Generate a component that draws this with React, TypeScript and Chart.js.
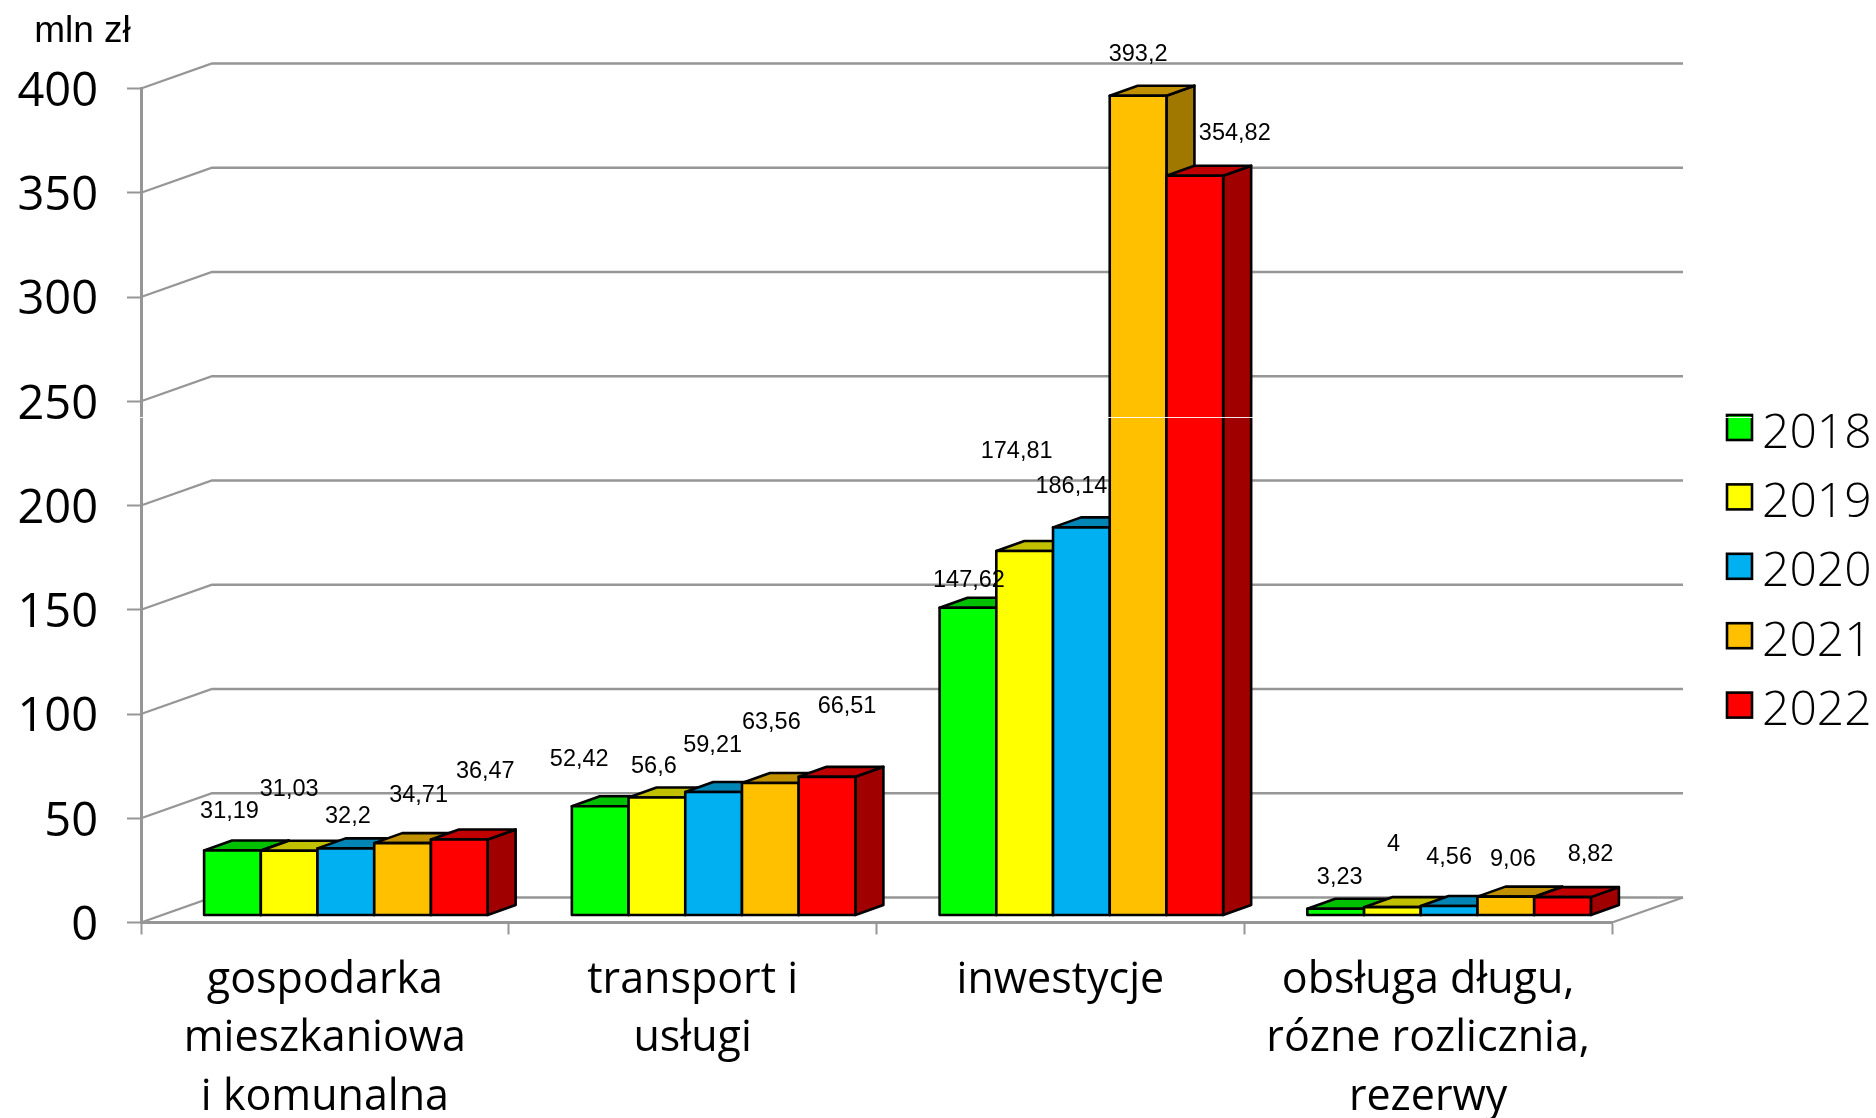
import React, { useEffect, useRef } from "react";
import { Chart, registerables } from "chart.js";

Chart.register(...registerables);

const categories = [
  ["gospodarka", "mieszkaniowa", "i komunalna"],
  ["transport i", "usługi"],
  ["inwestycje"],
  ["obsługa długu,", "rózne rozlicznia,", "rezerwy"],
];
const years = ["2018", "2019", "2020", "2021", "2022"];
const values2018 = [31.19, 52.42, 147.62, 3.23];
const values2019 = [31.03, 56.6, 174.81, 4];
const values2020 = [32.2, 59.21, 186.14, 4.56];
const values2021 = [34.71, 63.56, 393.2, 9.06];
const values2022 = [36.47, 66.51, 354.82, 8.82];
const seriesValues = [values2018, values2019, values2020, values2021, values2022];

const frontColors = ["#00FF00", "#FFFF00", "#00B0F0", "#FFC000", "#FF0000"];
const topColors = ["#00C000", "#C0C000", "#0085B5", "#C09000", "#C00000"];
const sideColors = ["#00A000", "#A0A000", "#0070A0", "#A07800", "#A00000"];

// label offsets from each bar's top centre, per series then per category
const labelDx = [
  [-3, -21, 1, 4],
  [0, -3, -8, 1],
  [2, -1, -10, 0],
  [16, 1, 0, 7],
  [26, 20, 40, 28],
];
const labelDy = [
  [-40, -48, -28, -32],
  [-62, -32, -101, -64],
  [-33, -48, -42, -49],
  [-49, -61, -42, -38],
  [-69, -71, -43, -44],
];

const GRID = "#969696";
const WALL_DX = 71;
const WALL_DY = -25;
const BAR_SHIFT_X = 21;
const BAR_SHIFT_Y = -7;
const DEPTH_X = 28;
const DEPTH_Y = -10;
const OUTLINE = 2.6;
const SCAN_Y = 417;

const threeD = {
  id: "threeD",
  beforeDatasetsDraw(chart: any) {
    const { ctx, scales } = chart;
    const y = scales.y;
    const x = scales.x;
    const wallRight = x.right + WALL_DX;
    ctx.save();
    ctx.strokeStyle = GRID;
    ctx.lineWidth = 2.3;
    y.ticks.forEach((t: any) => {
      const py = y.getPixelForValue(t.value);
      ctx.beginPath();
      ctx.moveTo(x.left, py);
      ctx.lineTo(x.left + WALL_DX, py + WALL_DY);
      ctx.lineTo(wallRight, py + WALL_DY);
      ctx.stroke();
    });
    const p0 = y.getPixelForValue(0);
    ctx.beginPath();
    ctx.moveTo(x.right, p0);
    ctx.lineTo(wallRight, p0 + WALL_DY);
    ctx.stroke();
    ctx.restore();

    // Painter's order: series run left to right so each bar covers its left neighbour's side.
    chart.data.datasets.forEach((_ds: any, i: number) => {
      const meta = chart.getDatasetMeta(i);
      ctx.save();
      ctx.translate(BAR_SHIFT_X, BAR_SHIFT_Y);
      ctx.strokeStyle = "#000";
      ctx.lineWidth = OUTLINE;
      ctx.lineJoin = "round";
      meta.data.forEach((el: any) => {
        const l = el.x - el.width / 2;
        const r = el.x + el.width / 2;
        const t = el.y;
        const b = el.base;
        ctx.fillStyle = sideColors[i];
        ctx.beginPath();
        ctx.moveTo(r, t);
        ctx.lineTo(r + DEPTH_X, t + DEPTH_Y);
        ctx.lineTo(r + DEPTH_X, b + DEPTH_Y);
        ctx.lineTo(r, b);
        ctx.closePath();
        ctx.fill();
        ctx.stroke();
        ctx.fillStyle = topColors[i];
        ctx.beginPath();
        ctx.moveTo(l, t);
        ctx.lineTo(l + DEPTH_X, t + DEPTH_Y);
        ctx.lineTo(r + DEPTH_X, t + DEPTH_Y);
        ctx.lineTo(r, t);
        ctx.closePath();
        ctx.fill();
        ctx.stroke();
      });
      meta.controller.draw();
      meta.data.forEach((el: any) => {
        ctx.strokeRect(el.x - el.width / 2, el.y, el.width, el.base - el.y);
      });
      ctx.restore();
    });
    return false;
  },
  afterDraw(chart: any) {
    const { ctx } = chart;
    ctx.save();

    // legend swatches
    const legendX = 1727;
    const legendY = 427;
    const legendStep = 69.4;
    chart.data.datasets.forEach((ds: any, i: number) => {
      const cy = legendY + i * legendStep;
      ctx.fillStyle = ds.backgroundColor;
      ctx.fillRect(legendX, cy - 12, 25, 25);
      ctx.strokeStyle = "#000";
      ctx.lineWidth = OUTLINE;
      ctx.strokeRect(legendX, cy - 12, 25, 25);
    });

    // thin light scan line that crosses the artwork in the reference
    ctx.fillStyle = "rgba(255,255,255,0.9)";
    ctx.fillRect(130, SCAN_Y, 1622, 1);

    ctx.fillStyle = "#000";
    ctx.textAlign = "center";
    ctx.textBaseline = "middle";
    ctx.font = '23.5px "Liberation Sans"';
    chart.data.datasets.forEach((ds: any, i: number) => {
      const meta = chart.getDatasetMeta(i);
      meta.data.forEach((el: any, j: number) => {
        const text = String(ds.data[j]).replace(".", ",");
        ctx.fillText(
          text,
          el.x + BAR_SHIFT_X + labelDx[i][j],
          el.y + BAR_SHIFT_Y + 1 + labelDy[i][j]
        );
      });
    });
    ctx.font = '37px "Liberation Sans"';
    ctx.fillText("mln zł", 82.5, 32);

    ctx.textAlign = "left";
    ctx.font = '300 48px "Open Sans"';
    chart.data.datasets.forEach((ds: any, i: number) => {
      ctx.fillText(ds.label, 1762, legendY + i * legendStep + 7);
    });
    ctx.restore();
  },
};

export default function App() {
  const ref = useRef<HTMLCanvasElement | null>(null);
  useEffect(() => {
    const chart = new Chart(ref.current as HTMLCanvasElement, {
      type: "bar",
      data: {
        labels: categories as any,
        datasets: years.map((year, i) => ({
          label: year,
          data: seriesValues[i],
          backgroundColor: frontColors[i],
          borderWidth: 0,
          clip: false,
          categoryPercentage: 0.771,
          barPercentage: 1,
        })),
      },
      options: {
        animation: false,
        responsive: false,
        layout: { padding: { top: 88.5, right: 264, left: 0, bottom: 0 } },
        plugins: { legend: { display: false }, tooltip: { enabled: false } },
        scales: {
          x: {
            afterFit: (s: any) => {
              s.height = 195.5;
            },
            grid: {
              display: true,
              drawOnChartArea: false,
              drawTicks: true,
              tickLength: 12,
              tickColor: GRID,
              tickWidth: 2,
            },
            border: { color: GRID, width: 3 },
            ticks: {
              maxRotation: 0,
              autoSkip: false,
              padding: 17,
              color: "#000",
              font: { family: '"Open Sans"', size: 43, lineHeight: 1.36 },
            },
          },
          y: {
            min: 0,
            max: 400,
            afterFit: (s: any) => {
              s.width = 141;
            },
            grid: {
              display: true,
              drawOnChartArea: false,
              drawTicks: true,
              tickLength: 14,
              tickColor: GRID,
              tickWidth: 2,
            },
            border: { color: GRID, width: 3 },
            ticks: {
              stepSize: 50,
              padding: 29,
              labelOffset: 4,
              color: "#000",
              font: { family: '"Open Sans"', size: 47 },
            },
          },
        },
      } as any,
      plugins: [threeD as any],
    });
    return () => chart.destroy();
  }, []);
  return (
    <div style={{ position: "absolute", left: 0, top: 0, width: 1876, height: 1118, background: "#fff" }}>
      <canvas ref={ref} width={1876} height={1118} style={{ display: "block" }} />
    </div>
  );
}
